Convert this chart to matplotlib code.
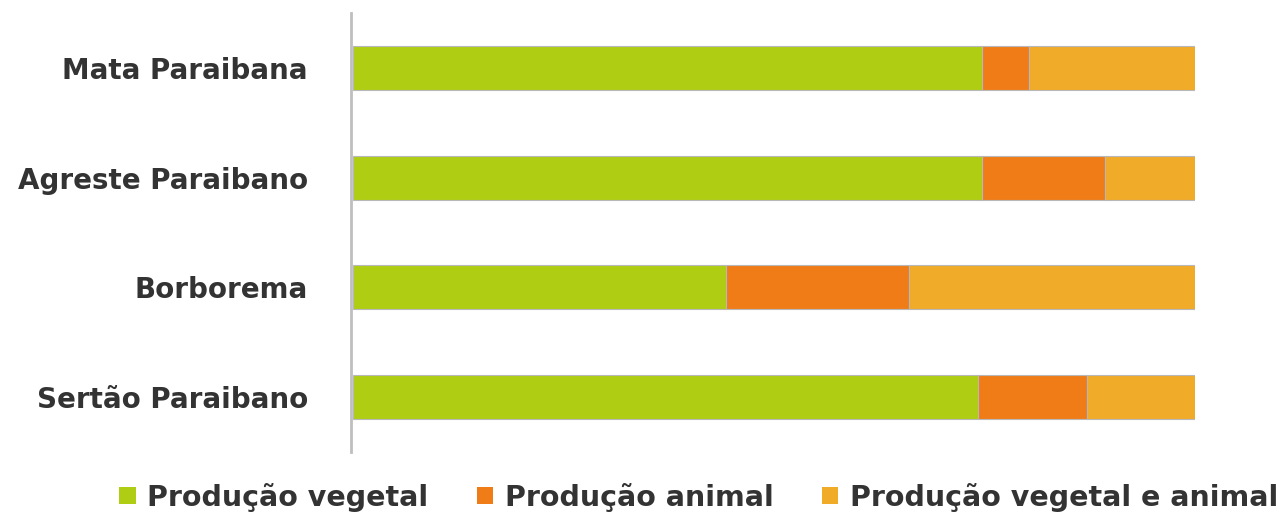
import matplotlib
matplotlib.use("Agg")
import matplotlib.pyplot as plt
from matplotlib.patches import Patch

categories = ["Mata Paraibana", "Agreste Paraibano", "Borborema", "Sertão Paraibano"]
series_names = ["Produção vegetal", "Produção animal", "Produção vegetal e animal"]
vegetal = [74.7, 74.7, 44.3, 74.3]
animal = [5.6, 14.6, 21.7, 12.9]
vegetal_animal = [19.7, 10.7, 34.0, 12.8]
colors = ["#afcd12", "#f07c17", "#f0ab29"]

plt.rcParams["font.family"] = ["DejaVu Sans"]

fig = plt.figure(figsize=(12.82, 5.14), dpi=100)
ax = fig.add_axes([351 / 1282, 1 - 452 / 514, (1194.7 - 351) / 1282, (452 - 13) / 514])

ypos = list(range(len(categories)))
left = [0] * len(categories)
for vals, c in zip([vegetal, animal, vegetal_animal], colors):
    ax.barh(ypos, vals, left=left, height=0.4, color=c, edgecolor="#b8b8b8", linewidth=0.8)
    left = [l + v for l, v in zip(left, vals)]

ax.set_ylim(3.5, -0.5)
ax.set_xlim(-0.25, 100)
ax.set_yticks(ypos)
ax.set_yticklabels(categories, fontsize=20, fontweight="bold", color="#333333")
ax.tick_params(axis="y", length=0, pad=31)
ax.set_xticks([])
for s in ["top", "right", "bottom"]:
    ax.spines[s].set_visible(False)
ax.spines["left"].set_color("#bfbfbf")
ax.spines["left"].set_linewidth(2)

handles = [Patch(facecolor=c, edgecolor="none") for c in colors]
fig.legend(handles, series_names, loc="center", bbox_to_anchor=(0.545, 1 - 497 / 514), ncol=3,
           frameon=False, prop={"size": 20.5, "weight": "bold"}, handlelength=0.58, handleheight=0.58,
           handletextpad=0.4, columnspacing=1.7, labelcolor="#333333")

fig.savefig("out.png", dpi=100)
